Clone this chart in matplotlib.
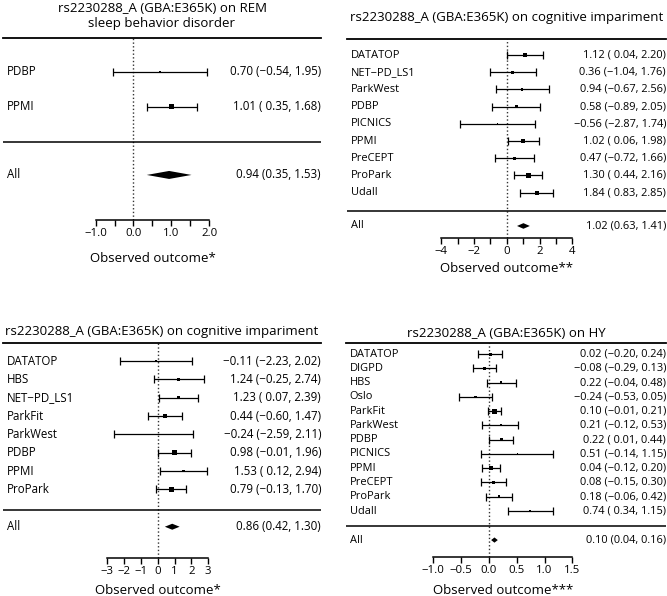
import matplotlib.pyplot as plt
from matplotlib.transforms import blended_transform_factory

plt.rcParams['font.family'] = ['Open Sans', 'DejaVu Sans']

# --- data -------------------------------------------------------------
rem_studies = ['PDBP', 'PPMI']
rem_est = [0.70, 1.01]
rem_lo = [-0.54, 0.35]
rem_hi = [1.95, 1.68]
rem_all = [0.94, 0.35, 1.53]

cog1_studies = ['DATATOP', 'NET\u2212PD_LS1', 'ParkWest', 'PDBP', 'PICNICS',
                'PPMI', 'PreCEPT', 'ProPark', 'Udall']
cog1_est = [1.12, 0.36, 0.94, 0.58, -0.56, 1.02, 0.47, 1.30, 1.84]
cog1_lo = [0.04, -1.04, -0.67, -0.89, -2.87, 0.06, -0.72, 0.44, 0.83]
cog1_hi = [2.20, 1.76, 2.56, 2.05, 1.74, 1.98, 1.66, 2.16, 2.85]
cog1_all = [1.02, 0.63, 1.41]

cog2_studies = ['DATATOP', 'HBS', 'NET\u2212PD_LS1', 'ParkFit', 'ParkWest',
                'PDBP', 'PPMI', 'ProPark']
cog2_est = [-0.11, 1.24, 1.23, 0.44, -0.24, 0.98, 1.53, 0.79]
cog2_lo = [-2.23, -0.25, 0.07, -0.60, -2.59, -0.01, 0.12, -0.13]
cog2_hi = [2.02, 2.74, 2.39, 1.47, 2.11, 1.96, 2.94, 1.70]
cog2_all = [0.86, 0.42, 1.30]

hy_studies = ['DATATOP', 'DIGPD', 'HBS', 'Oslo', 'ParkFit', 'ParkWest', 'PDBP',
              'PICNICS', 'PPMI', 'PreCEPT', 'ProPark', 'Udall']
hy_est = [0.02, -0.08, 0.22, -0.24, 0.10, 0.21, 0.22, 0.51, 0.04, 0.08, 0.18, 0.74]
hy_lo = [-0.20, -0.29, -0.04, -0.53, -0.01, -0.12, 0.01, -0.14, -0.12, -0.15, -0.06, 0.34]
hy_hi = [0.24, 0.13, 0.48, 0.05, 0.21, 0.53, 0.44, 1.15, 0.20, 0.30, 0.42, 1.15]
hy_all = [0.10, 0.04, 0.16]

# box side (px) ~ study weight
rem_box = [1.5, 5]
cog1_box = [4, 3, 2.5, 3, 1.5, 4, 3, 5, 4]
cog2_box = [1.5, 3, 3.5, 4, 1.5, 4.5, 2.5, 5]
hy_box = [3, 3, 2.5, 2.5, 5, 2, 3, 1.5, 4, 3, 2.5, 1.5]

W, H = 667, 596
fig = plt.figure(figsize=(W / 100, H / 100), dpi=100)


def num(v):
    return f"{v:.2f}".replace('-', '\u2212')


def forest(studies, est, lo, hi, summ, box, xlabel, ticks, minor, ticklabels,
           left, right, top, axis_px, row0, step, x0, unit, sep_row, all_row,
           dia_px, title_lines, fs=8.0):
    ax = fig.add_axes([left / W, 1 - axis_px / H, (right - left) / W, (axis_px - top) / H])
    ax.set_xlim((left - x0) / unit, (right - x0) / unit)
    ax.set_ylim((axis_px - row0) / step, (top - row0) / step)
    for s in ['left', 'right']:
        ax.spines[s].set_visible(False)
    ax.spines['top'].set_linewidth(1.3)
    ax.spines['bottom'].set_linewidth(1.1)
    ax.spines['bottom'].set_bounds(ticks[0], ticks[-1])
    ax.set_yticks([])
    ax.set_xticks(ticks)
    ax.set_xticklabels(ticklabels, fontsize=8.2)
    if minor:
        ax.set_xticks(minor, minor=True)
    ax.tick_params(axis='x', which='both', length=4, width=1, pad=2)

    rows = list(range(1, len(studies) + 1))
    ax.axvline(0, color='#333333', ls=':', lw=1)
    ax.axhline(sep_row, color='black', lw=1.1)
    ax.errorbar(est, rows, xerr=[[e - l for e, l in zip(est, lo)],
                                 [h - e for e, h in zip(est, hi)]],
                fmt='none', ecolor='black', elinewidth=0.9, capsize=2.8, capthick=0.9)
    ax.scatter(est, rows, marker='s', s=[(b * 0.72) ** 2 for b in box],
               color='black', linewidths=0, zorder=3)
    e, l, h = summ
    d = dia_px / step
    ax.fill([l, e, h, e], [all_row, all_row - d, all_row, all_row + d],
            color='black', lw=0)

    tr = blended_transform_factory(ax.transAxes, ax.transData)
    pad = any(v < 0 for v in lo)
    for r, s_, e_, l_, h_ in zip(rows, studies, est, lo, hi):
        ax.text(0.012, r, s_, transform=tr, ha='left', va='center', fontsize=fs)
        lo_s = (' ' + num(l_)) if (pad and l_ >= 0) else num(l_)
        ax.text(1.0, r, f"{num(e_)} ({lo_s}, {num(h_)})", transform=tr,
                ha='right', va='center', fontsize=fs)
    ax.text(0.012, all_row, 'All', transform=tr, ha='left', va='center', fontsize=fs)
    ax.text(1.0, all_row, f"{num(e)} ({num(l)}, {num(h)})", transform=tr,
            ha='right', va='center', fontsize=fs)

    trx = blended_transform_factory(ax.transData, ax.transAxes)
    ax.text((ticks[0] + ticks[-1]) / 2, -(xlabel[1] - axis_px) / (axis_px - top),
            xlabel[0], transform=trx, ha='center', va='center', fontsize=9.5)
    for txt, ty in title_lines:
        fig.text((left + right) / 2 / W, 1 - ty / H, txt, ha='center', va='center',
                 fontsize=9.5)
    return ax


forest(rem_studies, rem_est, rem_lo, rem_hi, rem_all, rem_box,
       ('Observed outcome*', 258), [-1, 0, 1, 2], [-0.5, 0.5, 1.5],
       ['\u22121.0', '0.0', '1.0', '2.0'],
       3, 321, 38, 220, 36.7, 35, 133.5, 37.9, 3.0, 3.95, 4,
       [('rs2230288_A (GBA:E365K) on REM', 8), ('sleep behavior disorder', 23)], fs=8.3)

forest(cog1_studies, cog1_est, cog1_lo, cog1_hi, cog1_all, cog1_box,
       ('Observed outcome**', 268), [-4, -2, 0, 2, 4], [-3, -1, 1, 3],
       ['\u22124', '\u22122', '0', '2', '4'],
       347, 666, 39.3, 238, 37.8, 17.2, 506.7, 16.4, 10.05, 10.94, 2.8,
       [('rs2230288_A (GBA:E365K) on cognitive impariment', 17)], fs=7.9)

forest(cog2_studies, cog2_est, cog2_lo, cog2_hi, cog2_all, cog2_box,
       ('Observed outcome*', 591), [-3, -2, -1, 0, 1, 2, 3], None,
       ['\u22123', '\u22122', '\u22121', '0', '1', '2', '3'],
       3, 321, 342.7, 557.7, 342.7, 18.33, 157.8, 16.8, 9.13, 10.04, 3,
       [('rs2230288_A (GBA:E365K) on cognitive impariment', 331.7)], fs=8.3)

forest(hy_studies, hy_est, hy_lo, hy_hi, hy_all, hy_box,
       ('Observed outcome***', 590), [-1.0, -0.5, 0.0, 0.5, 1.0, 1.5], None,
       ['\u22121.0', '\u22120.5', '0.0', '0.5', '1.0', '1.5'],
       346, 666, 342.7, 556.7, 340, 14.25, 488.9, 55.6, 13.03, 14.04, 2.6,
       [('rs2230288_A (GBA:E365K) on HY', 333.3)], fs=7.9)

fig.savefig('out.png', dpi=100)
